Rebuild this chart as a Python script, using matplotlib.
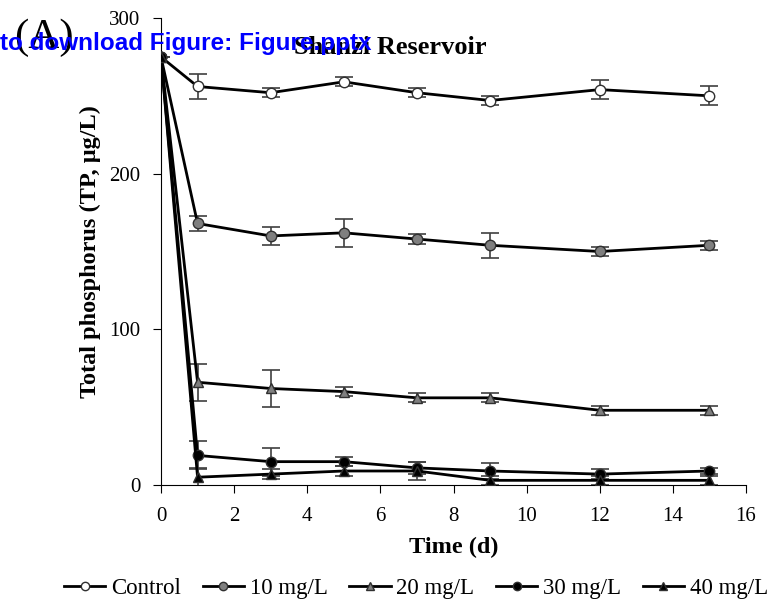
import matplotlib
matplotlib.use('Agg')
import matplotlib.pyplot as plt
import numpy as np

plt.rcParams['font.family'] = ['Liberation Serif', 'DejaVu Serif']
plt.rcParams['mathtext.fontset'] = 'stix'

# data
days = [0, 1, 3, 5, 7, 9, 12, 15]
labels = ['Control', '10 mg/L', '20 mg/L', '30 mg/L', '40 mg/L']
tp = [
    [275, 256, 252, 259, 252, 247, 254, 250],
    [275, 168, 160, 162, 158, 154, 150, 154],
    [275, 66, 62, 60, 56, 56, 48, 48],
    [275, 19, 15, 15, 11, 9, 7, 9],
    [275, 5, 7, 9, 9, 3, 3, 3],
]
err = [
    [0, 8, 3, 3, 3, 3, 6, 6],
    [0, 5, 6, 9, 3, 8, 3, 3],
    [0, 12, 12, 3, 3, 3, 3, 3],
    [0, 9, 9, 3, 4, 5, 3, 2],
    [0, 6, 3, 3, 6, 3, 3, 3],
]
markers = ['o', 'o', '^', 'o', '^']
faces = ['white', '#7f7f7f', '#7f7f7f', 'black', 'black']

fig = plt.figure(figsize=(7.69, 6.06), dpi=100)
ax = fig.add_axes([161/769, 1 - 485/606, (746-161)/769, (485-18)/606])

for i in range(len(labels)):
    ax.errorbar(days, tp[i], yerr=err[i], fmt='none', ecolor='#404040',
                elinewidth=1.2, capsize=6.5, capthick=1.2, zorder=2)
    ax.plot(days, tp[i], '-', color='black', lw=2, marker=markers[i],
            ms=7.5, mfc=faces[i], mec='#303030', mew=1, label=labels[i], zorder=3)

ax.set_xlim(0, 16)
ax.set_ylim(0, 300)
ax.set_xticks(np.arange(0, 17, 2))
ax.set_yticks([0, 100, 200, 300])
ax.spines['top'].set_visible(False)
ax.spines['right'].set_visible(False)
ax.tick_params(labelsize=15, direction='out', length=6)
ax.tick_params(axis='x', pad=10)
ax.tick_params(axis='y', pad=9)
ax.set_xlabel('Time (d)', fontsize=17.5, fontweight='bold', labelpad=8)
ax.set_ylabel('Total phosphorus (TP, μg/L)', fontsize=17.5, fontweight='bold', labelpad=6)

fig.text(390/769, 1 - 54/606, 'Shanzi Reservoir', fontsize=19, fontweight='bold',
         ha='center', va='baseline')
fig.text(14/769, 1 - 38/606, '(A)', fontsize=31, ha='left', va='center')
fig.text(0, 1 - 50/606, 'to download Figure: Figure.pptx', fontsize=17.5, fontweight='bold',
         color='#0000ff', family='Liberation Sans', ha='left', va='baseline')

fig.legend(loc='center', bbox_to_anchor=(416/769, 1 - 588/606), ncol=5, frameon=False,
           fontsize=16.5, handlelength=1.8, handletextpad=0.25, columnspacing=0.95,
           markerscale=0.8, borderaxespad=0, borderpad=0)

fig.savefig('out.png', dpi=100)
